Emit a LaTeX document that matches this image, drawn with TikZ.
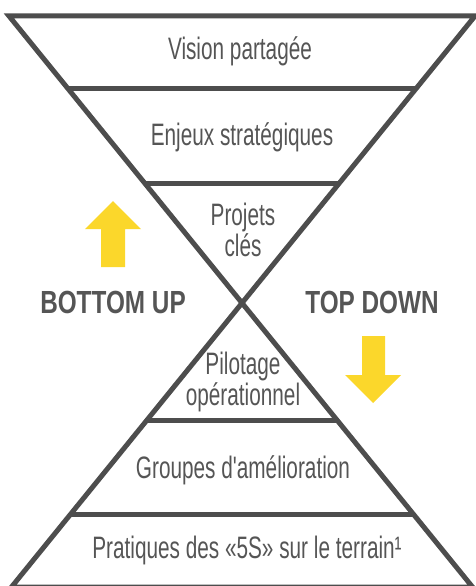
\documentclass[tikz,border=0pt]{standalone}
\usepackage{fontspec}
\setmainfont{Liberation Sans}
\newfontfamily\levelfont[FakeStretch=0.67]{Liberation Sans}
\newfontfamily\sidefont[FakeStretch=0.76]{Liberation Sans Bold}
\usetikzlibrary{calc}
\definecolor{hgray}{RGB}{77,77,77}
\definecolor{tgray}{RGB}{85,85,85}
\definecolor{sunyellow}{RGB}{251,215,43}

\begin{document}
\begin{tikzpicture}[x=1pt,y=-1pt,
    frame/.style={draw=hgray,line width=5pt,line join=miter},
    level/.style={text=tgray,font=\levelfont\fontsize{31}{31}\selectfont,align=center,inner sep=0pt},
    side/.style={text=tgray,font=\sidefont\fontsize{32}{34}\selectfont,inner sep=0pt},
    flow/.style={fill=sunyellow}
  ]
  \useasboundingbox (0,0) rectangle (475,586);

  % hourglass corners
  \coordinate (apex) at (242,303);
  \coordinate (tl) at (9,16);
  \coordinate (tr) at (475,16);
  \coordinate (bl) at (11.5,587);
  \coordinate (br) at (472.5,587);

  % upper funnel and its bands
  \draw[frame] (tl) -- (tr) -- (apex) -- cycle;
  \draw[frame] ($(tl)!0.251!(apex)$) -- ($(tr)!0.251!(apex)$);
  \draw[frame] ($(tl)!0.582!(apex)$) -- ($(tr)!0.582!(apex)$);

  % lower pyramid and its bands
  \draw[frame] (apex) -- (br) -- (bl) -- cycle;
  \draw[frame] ($(apex)!0.412!(bl)$) -- ($(apex)!0.412!(br)$);
  \draw[frame] ($(apex)!0.746!(bl)$) -- ($(apex)!0.746!(br)$);

  % level labels
  \node[level] (vision) at (240,51) {Vision partagée};
  \node[level] (enjeux) at (242,137) {Enjeux stratégiques};
  \node[level] (projets) at (243,230) {Projets\\clés};
  \node[level] (pilotage) at (243,382) {Pilotage\\opérationnel};
  \node[level] (groupes) at (243,470) {Groupes d'amélioration};
  \node[level] (pratiques) at (247,550) {Pratiques des «5S» sur le terrain¹};

  % direction labels
  \node[side] (bottomup) at (113,302) {BOTTOM UP};
  \node[side] (topdown) at (372,302) {TOP DOWN};

  % yellow arrows
  \fill[flow] (101,267) -- (101,229) -- (85,229) -- (113,201)
    -- (141,229) -- (125,229) -- (125,267) -- cycle;
  \fill[flow] (362,336) -- (362,375) -- (345,375) -- (373,403)
    -- (401,375) -- (385,375) -- (385,336) -- cycle;
\end{tikzpicture}
\end{document}
